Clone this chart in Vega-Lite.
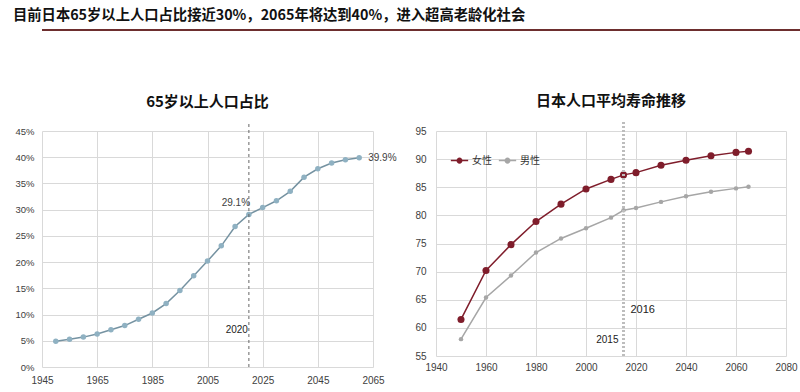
{
  "$schema": "https://vega.github.io/schema/vega-lite/v6.json",
  "padding": {"left": 5, "top": 8, "right": 5, "bottom": 0},
  "background": "white",
  "title": {"text": "目前日本65岁以上人口占比接近30%，2065年将达到40%，进入超高老龄化社会", "anchor": "start", "font": "Noto Sans CJK SC", "fontSize": 14.3, "fontWeight": "bold", "color": "#111", "offset": 6, "dx": 8},
  "config": {
    "view": {"stroke": null},
    "axis": {"labelFont": "Liberation Sans", "labelFontSize": 10, "labelColor": "#404040", "ticks": false, "domain": false, "gridColor": "#d9d9d9", "title": null},
    "title": {"font": "Noto Sans CJK SC", "fontSize": 15, "fontWeight": "bold", "color": "#111"}
  },
  "spacing": 62,
  "resolve": {"scale": {"color": "independent"}, "legend": {"color": "independent"}},
  "vconcat": [
    {
      "width": 790,
      "height": 1,
      "data": {"values": [{"v": 0}]},
      "mark": {"type": "rule", "color": "#6d2e2e", "strokeWidth": 2},
      "encoding": {"y": {"field": "v", "type": "quantitative", "scale": {"domain": [0, 1]}, "axis": null}}
    },
    {
      "bounds": "flush",
      "spacing": 63,
      "resolve": {"scale": {"color": "independent"}, "legend": {"color": "independent"}},
      "hconcat": [
        {
          "width": 331,
          "height": 236,
          "title": {"text": "65岁以上人口占比", "offset": 12},
          "data": {"values": [
            {"year": 1950, "share": 0.049}, {"year": 1955, "share": 0.053}, {"year": 1960, "share": 0.057},
            {"year": 1965, "share": 0.063}, {"year": 1970, "share": 0.071}, {"year": 1975, "share": 0.079},
            {"year": 1980, "share": 0.091}, {"year": 1985, "share": 0.103}, {"year": 1990, "share": 0.121},
            {"year": 1995, "share": 0.146}, {"year": 2000, "share": 0.174}, {"year": 2005, "share": 0.202},
            {"year": 2010, "share": 0.231}, {"year": 2015, "share": 0.268}, {"year": 2020, "share": 0.291},
            {"year": 2025, "share": 0.304}, {"year": 2030, "share": 0.317}, {"year": 2035, "share": 0.335},
            {"year": 2040, "share": 0.362}, {"year": 2045, "share": 0.378}, {"year": 2050, "share": 0.389},
            {"year": 2055, "share": 0.395}, {"year": 2060, "share": 0.399}
          ]},
          "encoding": {
            "x": {"field": "year", "type": "quantitative", "scale": {"domain": [1945, 2065], "nice": false, "zero": false}, "axis": {"values": [1945, 1965, 1985, 2005, 2025, 2045, 2065], "format": "d", "labelPadding": 8, "labelFlush": false}},
            "y": {"field": "share", "type": "quantitative", "scale": {"domain": [0, 0.45], "nice": false}, "axis": {"values": [0, 0.05, 0.1, 0.15, 0.2, 0.25, 0.3, 0.35, 0.4, 0.45], "format": ".0%", "labelFontSize": 9.5, "minExtent": 37, "labelPadding": 8}}
          },
          "layer": [
            {"mark": {"type": "line", "color": "#7592a1", "strokeWidth": 1.5}},
            {"mark": {"type": "point", "filled": true, "color": "#8fb1c2", "opacity": 1, "size": 30}},
            {
              "data": {"values": [{"year": 2020, "y0": 0, "y1": 0.466}]},
              "mark": {"type": "rule", "color": "#666", "strokeDash": [3, 3], "strokeWidth": 1},
              "encoding": {"x": {"field": "year", "type": "quantitative"}, "y": {"field": "y0", "type": "quantitative"}, "y2": {"field": "y1"}}
            },
            {
              "data": {"values": [{"year": 2020, "share": 0.291, "label": "29.1%"}]},
              "mark": {"type": "text", "font": "Liberation Sans", "fontSize": 10, "color": "#404040", "dx": -13, "dy": -11},
              "encoding": {"text": {"field": "label"}}
            },
            {
              "data": {"values": [{"year": 2060, "share": 0.399, "label": "39.9%"}]},
              "mark": {"type": "text", "font": "Liberation Sans", "fontSize": 10, "color": "#404040", "align": "left", "dx": 9},
              "encoding": {"text": {"field": "label"}}
            },
            {
              "data": {"values": [{"year": 2020, "share": 0.07, "label": "2020"}]},
              "mark": {"type": "text", "font": "Liberation Sans", "fontSize": 10, "color": "#222", "align": "right", "dx": -1},
              "encoding": {"text": {"field": "label"}}
            }
          ]
        },
        {
          "width": 350,
          "height": 225,
          "title": {"text": "日本人口平均寿命推移", "offset": 12},
          "data": {"values": [
            {"sex": "女性", "year": 1950, "age": 61.5}, {"sex": "女性", "year": 1960, "age": 70.2},
            {"sex": "女性", "year": 1970, "age": 74.8}, {"sex": "女性", "year": 1980, "age": 78.9},
            {"sex": "女性", "year": 1990, "age": 82.0}, {"sex": "女性", "year": 2000, "age": 84.7},
            {"sex": "女性", "year": 2010, "age": 86.4}, {"sex": "女性", "year": 2015, "age": 87.2},
            {"sex": "女性", "year": 2020, "age": 87.6}, {"sex": "女性", "year": 2030, "age": 88.9},
            {"sex": "女性", "year": 2040, "age": 89.8}, {"sex": "女性", "year": 2050, "age": 90.6},
            {"sex": "女性", "year": 2060, "age": 91.2}, {"sex": "女性", "year": 2065, "age": 91.4},
            {"sex": "男性", "year": 1950, "age": 58.0}, {"sex": "男性", "year": 1960, "age": 65.4},
            {"sex": "男性", "year": 1970, "age": 69.3}, {"sex": "男性", "year": 1980, "age": 73.4},
            {"sex": "男性", "year": 1990, "age": 75.9}, {"sex": "男性", "year": 2000, "age": 77.7},
            {"sex": "男性", "year": 2010, "age": 79.6}, {"sex": "男性", "year": 2015, "age": 80.9},
            {"sex": "男性", "year": 2020, "age": 81.3}, {"sex": "男性", "year": 2030, "age": 82.4},
            {"sex": "男性", "year": 2040, "age": 83.4}, {"sex": "男性", "year": 2050, "age": 84.2},
            {"sex": "男性", "year": 2060, "age": 84.8}, {"sex": "男性", "year": 2065, "age": 85.1}
          ]},
          "encoding": {
            "x": {"field": "year", "type": "quantitative", "scale": {"domain": [1940, 2080], "nice": false, "zero": false}, "axis": {"values": [1940, 1960, 1980, 2000, 2020, 2040, 2060, 2080], "format": "d", "labelPadding": 6, "labelFlush": false}},
            "y": {"field": "age", "type": "quantitative", "scale": {"domain": [55, 95], "nice": false, "zero": false}, "axis": {"values": [55, 60, 65, 70, 75, 80, 85, 90, 95], "minExtent": 22, "labelPadding": 10}}
          },
          "layer": [
            {
              "mark": {"type": "line", "strokeWidth": 1.5},
              "encoding": {
                "color": {"field": "sex", "type": "nominal", "scale": {"domain": ["女性", "男性"], "range": ["#7f1d2b", "#a6a6a6"]},
                  "legend": {"title": null, "orient": "none", "legendX": 14, "legendY": 20, "direction": "horizontal", "labelFont": "Noto Sans CJK SC", "labelFontSize": 10, "labelColor": "#333", "symbolType": "M-1,0L1,0M0.26,0A0.26,0.26,0,1,1,-0.26,0A0.26,0.26,0,1,1,0.26,0M0.12,0A0.12,0.12,0,1,1,-0.12,0A0.12,0.12,0,1,1,0.12,0", "symbolSize": 300, "symbolStrokeWidth": 1.5, "columnPadding": 3, "labelOffset": 3}}
              }
            },
            {
              "mark": {"type": "point", "filled": true, "opacity": 1},
              "encoding": {
                "color": {"field": "sex", "type": "nominal", "scale": {"domain": ["女性", "男性"], "range": ["#7f1d2b", "#a6a6a6"]}, "legend": null},
                "size": {"field": "sex", "type": "nominal", "scale": {"domain": ["女性", "男性"], "range": [50, 20]}, "legend": null}
              }
            },
            {
              "data": {"values": [{"year": 2015, "y0": 55, "y1": 96.6}]},
              "mark": {"type": "rule", "color": "#bdbdbd", "strokeDash": [2, 2], "strokeWidth": 3},
              "encoding": {"x": {"field": "year", "type": "quantitative"}, "y": {"field": "y0", "type": "quantitative"}, "y2": {"field": "y1"}}
            },
            {
              "data": {"values": [{"year": 2015, "age": 63.2, "label": "2016"}]},
              "mark": {"type": "text", "font": "Liberation Sans", "fontSize": 11, "color": "#222", "align": "left", "dx": 7},
              "encoding": {"text": {"field": "label"}}
            },
            {
              "data": {"values": [{"year": 2015, "age": 57.8, "label": "2015"}]},
              "mark": {"type": "text", "font": "Liberation Sans", "fontSize": 10, "color": "#222", "align": "right", "dx": -5},
              "encoding": {"text": {"field": "label"}}
            }
          ]
        }
      ]
    }
  ]
}
